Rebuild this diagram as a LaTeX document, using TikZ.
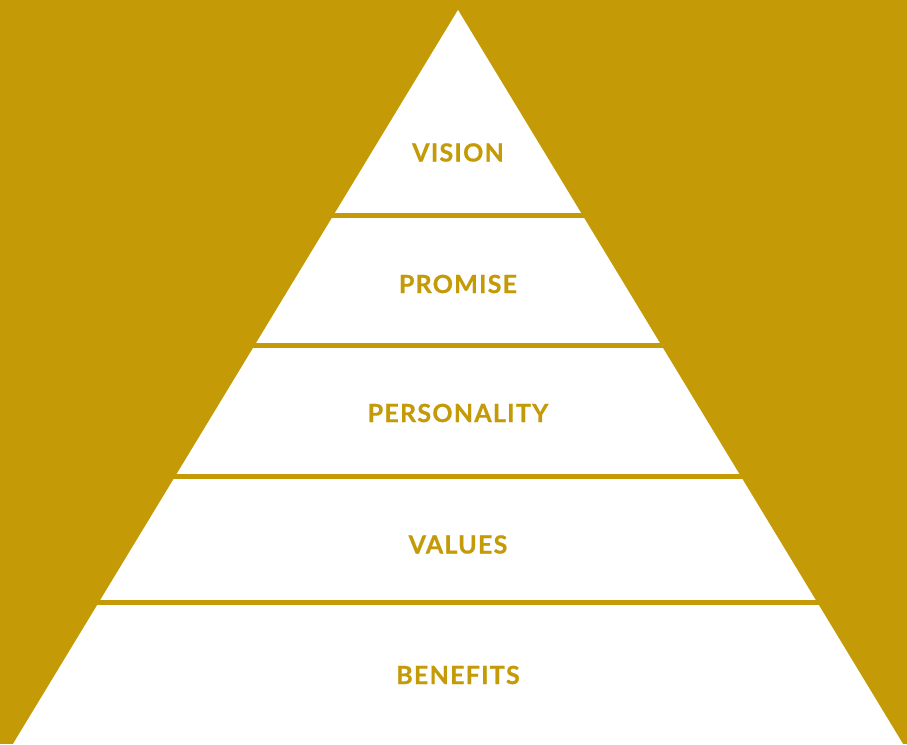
\documentclass[tikz,border=0pt]{standalone}
\usepackage{fontspec}
\setmainfont{Lato}
\newfontfamily\tierfont{Lato}[LetterSpace=5, FakeBold=0.6]
\definecolor{brandgold}{HTML}{C49A06}

\tikzset{
  tier/.style={text=brandgold, font=\tierfont\fontsize{25}{25}\selectfont\bfseries},
  gap/.style={brandgold, line width=5pt}
}

\begin{document}
\begin{tikzpicture}[x=1pt,y=1pt]
    \fill[brandgold] (0,0) rectangle (907,744);
    \useasboundingbox (0,0) rectangle (907,744);
    % the pyramid
    \coordinate (apex) at (458,734);
    \coordinate (baseL) at (13,0);
    \coordinate (baseR) at (903,0);
    \fill[white] (apex) -- (baseL) -- (baseR) -- cycle;
    % gaps between the tiers
    \foreach \h in {528.5,398,267,141.5}
      \draw[gap] (0,\h) -- (907,\h);
    \node[tier] (vision) at (458,591.5) {VISION};
    \node[tier] (promise) at (458,460) {PROMISE};
    \node[tier] (personality) at (458,331) {PERSONALITY};
    \node[tier] (values) at (458,199.5) {VALUES};
    \node[tier] (benefits) at (458,69) {BENEFITS};
  \end{tikzpicture}
\end{document}
